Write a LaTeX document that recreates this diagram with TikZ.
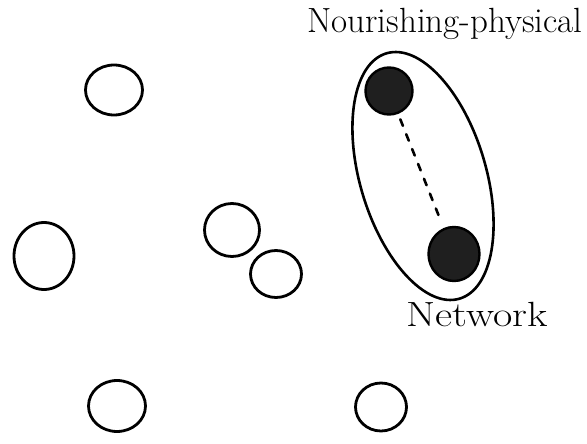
\documentclass[tikz,border=0pt]{standalone}
\usetikzlibrary{shapes.geometric}
\begin{document}
\begin{tikzpicture}[x=1pt,y=-1pt,
  ring/.style={draw, ellipse, line width=2.8pt, inner sep=0pt, outer sep=0pt},
  dotnode/.style={draw, fill=black!88, ellipse, line width=2.4pt, inner sep=0pt, outer sep=0pt},
  group/.style={draw, ellipse, line width=2.6pt, inner sep=0pt},
  lbl/.style={font=\fontsize{35}{35}\selectfont, inner sep=0pt},
  link/.style={line width=2.6pt, dash pattern=on 7pt off 9pt, line cap=round}]
\useasboundingbox (0,0) rectangle (587,444);
% open circles
\node[ring, minimum width=57pt, minimum height=50pt] (c1) at (114,90) {};
\node[ring, minimum width=60pt, minimum height=67pt] (c2) at (44,256) {};
\node[ring, minimum width=55pt, minimum height=53pt] (c3) at (232,230) {};
\node[ring, minimum width=51pt, minimum height=47pt] (c4) at (276,274) {};
\node[ring, minimum width=57pt, minimum height=51pt] (c5) at (117,406) {};
\node[ring, minimum width=51pt, minimum height=48pt] (c6) at (381,407) {};
% group
\node[group, minimum width=256pt, minimum height=126pt, rotate=-73.4] (g) at (423,176) {};
\node[dotnode, minimum width=47pt, minimum height=47pt] (t) at (389,91) {};
\node[dotnode, minimum width=51pt, minimum height=54pt] (b) at (454,254) {};
\draw[link, shorten <=7pt, shorten >=9pt] (t) -- (b);
% labels
\node[lbl] (l1) at (445,24) {Nourishing-physical};
\node[lbl] (l2) at (477,314) {\scalebox{1.2}[1]{Network}};
\end{tikzpicture}
\end{document}
